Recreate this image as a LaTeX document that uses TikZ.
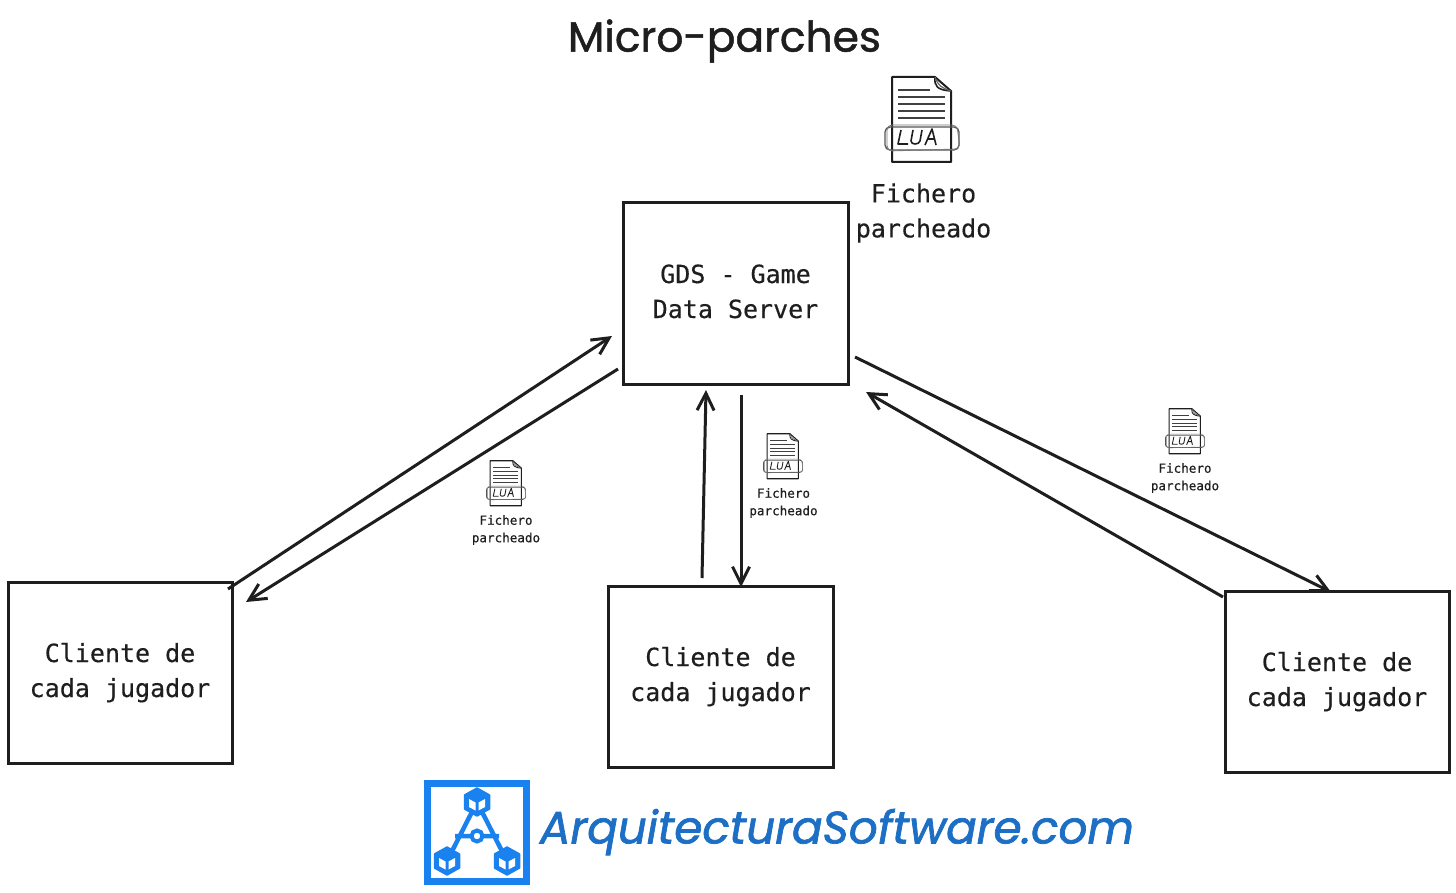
\documentclass[tikz,border=0pt]{standalone}
\usepackage{fontspec}
\setmainfont[FakeBold=0.35]{DejaVu Sans Mono}
\newfontfamily\handfont[FakeBold=1.2]{Poppins}
\newfontfamily\brandfont[FakeBold=1.6]{Poppins}
\usetikzlibrary{arrows.meta}
\definecolor{ink}{HTML}{1E1E1E}
\definecolor{logoblue}{HTML}{1A82EE}
\definecolor{logotext}{HTML}{1C6FC4}
\tikzset{
  x=1pt,y=-1pt,
  boxnode/.style={draw=ink,line width=3pt,fill=white,inner sep=0pt,align=center,font=\fontsize{25}{35}\selectfont,text=ink},
  flow/.style={draw=ink,line width=3pt,-{Straight Barb[length=17pt,width=17pt,line width=3pt]}},
  biglabel/.style={align=center,font=\fontsize{25}{35}\selectfont,text=ink},
  smalllabel/.style={align=center,font=\fontsize{12.6}{17.5}\selectfont,text=ink},
  pics/fileicon/.style={code={
    \draw[ink,line width=#1*2pt,fill=white,line join=round] (-30,-43) -- (13,-43) -- (29,-29) -- (29,42) -- (-30,42) -- cycle;
    \draw[ink,line width=#1*1.6pt] (13,-43) .. controls (12,-34) and (15,-30) .. (29,-29);
    \draw[ink!70,line width=#1*1.2pt] (13,-43) .. controls (16,-34) and (20,-32) .. (29,-29);
    \draw[ink!85,line width=#1*1.6pt] (-24,-30) -- (8,-30) (-24,-23) -- (23,-23) (-24,-16) -- (23,-16) (-24,-9) -- (23,-9) (-24,-2) -- (23,-2);
    \draw[ink!75,line width=#1*1.3pt,rounded corners=#1*5pt] (-37,7) rectangle (37,30);
    \draw[ink!60,line width=#1*0.9pt,rounded corners=#1*5pt] (-35,5) -- (35,5) -- (38,29) -- (-35,31) -- cycle;
    \draw[ink,line width=#1*1.6pt,line join=round] (-21,10) -- (-24,24) -- (-14,24)
      (-9,10) -- (-11,21) .. controls (-11,25) and (-3,25) .. (-2,21) -- (0,10)
      (3,25) -- (10,9) -- (14,25) (5,19) -- (13,19);
  }},
  pics/cube/.style={code={
    \fill[logoblue,line join=round,draw=logoblue,line width=1.5pt] (0,-14) -- (12.5,-7) -- (12.5,7) -- (0,14) -- (-12.5,7) -- (-12.5,-7) -- cycle;
    \fill[white] (-8,-3) -- (-1.5,0.5) -- (-1.5,8.5) -- (-8,5) -- cycle;
    \fill[white] (8,-3) -- (1.5,0.5) -- (1.5,8.5) -- (8,5) -- cycle;
  }}
}
\begin{document}
\begin{tikzpicture}
\useasboundingbox (0,0) rectangle (1456,893);
\fill[white] (0,0) rectangle (1456,893);

\node[text=ink] (title) at (724.5,41) {\resizebox{313pt}{!}{\handfont Micro-parches}};

\node[boxnode,minimum width=225pt,minimum height=181pt] (gds) at (735.5,293.5) {\raisebox{2pt}{\begin{tabular}{@{}c@{}}GDS - Game\\[-.0pt]Data Server\end{tabular}}};
\node[boxnode,minimum width=224pt,minimum height=181pt] (c1) at (120,672.5) {\raisebox{-1pt}{\begin{tabular}{@{}c@{}}Cliente de\\cada jugador\end{tabular}}};
\node[boxnode,minimum width=225pt,minimum height=181pt] (c2) at (720.5,676.5) {\raisebox{-1pt}{\begin{tabular}{@{}c@{}}Cliente de\\cada jugador\end{tabular}}};
\node[boxnode,minimum width=224pt,minimum height=181pt] (c3) at (1337,681.5) {\raisebox{-1pt}{\begin{tabular}{@{}c@{}}Cliente de\\cada jugador\end{tabular}}};

\coordinate (a1s) at (228,589); \coordinate (a1e) at (612,336);
\coordinate (a2s) at (618,369); \coordinate (a2e) at (246,602);
\coordinate (a3s) at (702,578); \coordinate (a3e) at (706,390);
\coordinate (a4s) at (741,395); \coordinate (a4e) at (741,587);
\coordinate (a5s) at (855,357); \coordinate (a5e) at (1331,592);
\coordinate (a6s) at (1223,597); \coordinate (a6e) at (866,392);
\draw[flow] (a1s) -- (a1e);
\draw[flow] (a2s) -- (a2e);
\draw[flow] (a3s) -- (a3e);
\draw[flow] (a4s) -- (a4e);
\draw[flow] (a5s) -- (a5e);
\draw[flow] (a6s) -- (a6e);

\pic[scale=1] at (922,120) {fileicon=1};
\node[biglabel] (lab0) at (923.5,213) {Fichero\\parcheado};

\pic[scale=.53] at (783,456.5) {fileicon=.55};
\node[smalllabel] (lab2) at (783.5,503) {Fichero\\parcheado};
\pic[scale=.53] at (506,483.5) {fileicon=.55};
\node[smalllabel] (lab1) at (506,530) {Fichero\\parcheado};
\pic[scale=.53] at (1185,431.5) {fileicon=.55};
\node[smalllabel] (lab3) at (1185,478) {Fichero\\parcheado};

% logo
\draw[logoblue,line width=7pt] (427.5,783.5) rectangle (526.5,881.5);
\draw[logoblue,line width=4.5pt] (477,802) -- (447,861) (477,802) -- (507,861) (455,836) -- (499,836);
\draw[logoblue,line width=4pt,fill=white] (477,836) circle (5.5);
\pic at (477,802) {cube};
\pic at (447,861) {cube};
\pic at (507,861) {cube};

\node[text=logotext] (brand) at (837,832) {\resizebox{594pt}{!}{\brandfont\itshape ArquitecturaSoftware.com}};
\end{tikzpicture}
\end{document}
